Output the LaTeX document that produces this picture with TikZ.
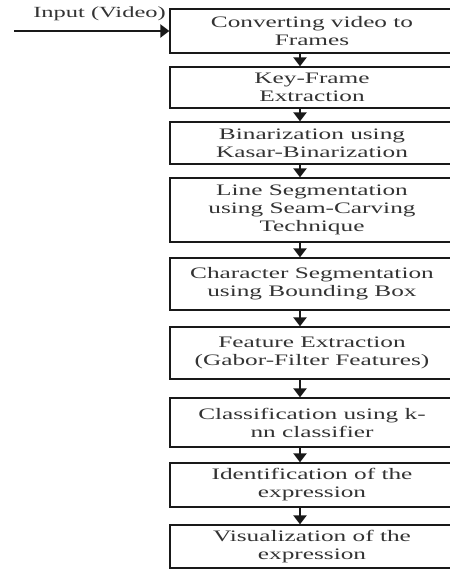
\documentclass[tikz,border=0pt]{standalone}
\usepackage{fontspec}
\setmainfont{Liberation Serif}[FakeStretch=1.58]
\usepackage{tikz}
\usetikzlibrary{arrows.meta}
\definecolor{boxline}{gray}{0.1}
\definecolor{boxtext}{gray}{0.2}

\begin{document}
\begin{tikzpicture}[x=1pt,y=-1pt,
		box/.style={draw=boxline, line width=1.3pt, rectangle, minimum width=284pt, inner sep=2pt, align=center, text=boxtext, font=\fontsize{16}{18}\selectfont},
		flow/.style={-{Triangle[width=13pt,length=9pt]}, line width=2.4pt, color=boxline}]
			\useasboundingbox (0,0) rectangle (450,571);
			\clip (0,0) rectangle (450,571);
			
			\coordinate (ax) at (300,0);
			\coordinate (in) at (14,31);
			
			\node[box, minimum height=44pt] (conv) at (312,31) {Converting video to\\Frames};
			\node[box, minimum height=41pt] (key) at (312,87.5) {Key-Frame\\Extraction};
			\node[box, minimum height=42pt] (bin) at (312,143) {Binarization using\\Kasar-Binarization};
			\node[box, minimum height=64pt] (line) at (312,210) {Line Segmentation\\using Seam-Carving\\Technique};
			\node[box, minimum height=52pt] (char) at (312,284) {Character Segmentation\\using Bounding Box};
			\node[box, minimum height=52pt] (feat) at (312,353) {Feature Extraction\\(Gabor-Filter Features)};
			\node[box, minimum height=49pt] (class) at (312,422.5) {Classification using k-\\nn classifier};
			\node[box, minimum height=44pt] (ident) at (312,485) {Identification of the\\expression};
			\node[box, minimum height=43pt] (vis) at (312,546.5) {Visualization of the\\expression};
			
			\draw[flow] (in) -- (conv.west);
			\node[anchor=east, text=boxtext, inner sep=0pt, font=\fontsize{15.5}{18}\selectfont] (inlab) at (166,14) {Input (Video)};
			
			\draw[flow] (conv.south -| ax) -- (key.north -| ax);
			\draw[flow] (key.south -| ax) -- (bin.north -| ax);
			\draw[flow] (bin.south -| ax) -- (line.north -| ax);
			\draw[flow] (line.south -| ax) -- (char.north -| ax);
			\draw[flow] (char.south -| ax) -- (feat.north -| ax);
			\draw[flow] (feat.south -| ax) -- (class.north -| ax);
			\draw[flow] (class.south -| ax) -- (ident.north -| ax);
			\draw[flow] (ident.south -| ax) -- (vis.north -| ax);
		\end{tikzpicture}
\end{document}
